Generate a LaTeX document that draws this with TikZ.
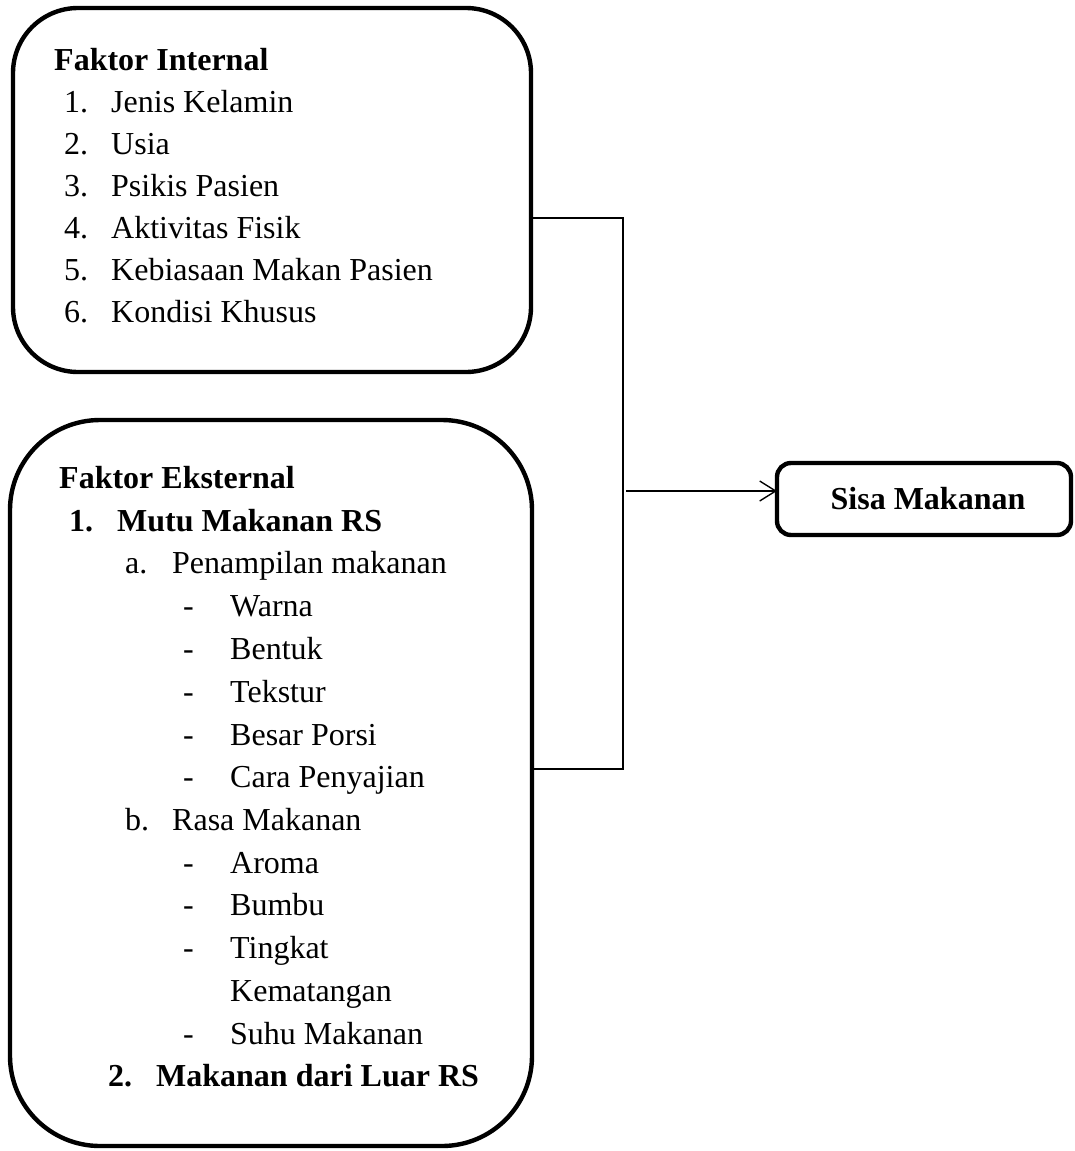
\documentclass[tikz,border=0pt]{standalone}
\usepackage{fontspec}
\setmainfont{Liberation Serif}
\usetikzlibrary{arrows.meta}
\begin{document}
\begin{tikzpicture}[x=1pt,y=-1pt,
  bigbox/.style={draw=black,line width=4.4pt,rectangle,inner sep=0pt,outer sep=0pt},
  txt/.style={anchor=base west,inner sep=0pt,font=\fontsize{32}{38}\selectfont},
  btxt/.style={txt,font=\fontsize{32}{38}\selectfont\bfseries},
  conn/.style={draw=black,line width=1.4pt},
  arr/.style={conn,-{Straight Barb[length=16pt,width=20pt,line width=1.4pt]}}]
\useasboundingbox (0,0) rectangle (1074,1151);
% boxes
\node[bigbox,minimum width=518pt,minimum height=364pt,rounded corners=65pt] (int) at (272,190) {};
\node[bigbox,minimum width=522pt,minimum height=726pt,rounded corners=90pt] (ext) at (271,783) {};
\node[bigbox,minimum width=294pt,minimum height=72pt,rounded corners=14pt,font=\fontsize{32}{38}\selectfont\bfseries] (sisa) at (924,499) {\hspace{8pt}Sisa Makanan};
% internal texts
\node[btxt] (ti) at (54,70) {Faktor Internal};
\node[txt] (i1n) at (64,112) {1.}; \node[txt] (i1) at (111,112) {Jenis Kelamin};
\node[txt] (i2n) at (64,154) {2.}; \node[txt] (i2) at (111,154) {Usia};
\node[txt] (i3n) at (64,196) {3.}; \node[txt] (i3) at (111,196) {Psikis Pasien};
\node[txt] (i4n) at (64,238) {4.}; \node[txt] (i4) at (111,238) {Aktivitas Fisik};
\node[txt] (i5n) at (64,280) {5.}; \node[txt] (i5) at (111,280) {Kebiasaan Makan Pasien};
\node[txt] (i6n) at (64,322) {6.}; \node[txt] (i6) at (111,322) {Kondisi Khusus};
% external texts
\node[btxt] (te) at (59,488) {Faktor Eksternal};
\node[btxt] (e1n) at (69,531) {1.}; \node[btxt] (e1) at (117,531) {Mutu Makanan RS};
\node[txt] (ean) at (125,573) {a.}; \node[txt] (ea) at (172,573) {Penampilan makanan};
\node[txt] (d1) at (183,616) {-}; \node[txt] (w1) at (230,616) {Warna};
\node[txt] (d2) at (183,659) {-}; \node[txt] (w2) at (230,659) {Bentuk};
\node[txt] (d3) at (183,702) {-}; \node[txt] (w3) at (230,702) {Tekstur};
\node[txt] (d4) at (183,745) {-}; \node[txt] (w4) at (230,745) {Besar Porsi};
\node[txt] (d5) at (183,787) {-}; \node[txt] (w5) at (230,787) {Cara Penyajian};
\node[txt] (ebn) at (125,830) {b.}; \node[txt] (eb) at (172,830) {Rasa Makanan};
\node[txt] (d6) at (183,873) {-}; \node[txt] (w6) at (230,873) {Aroma};
\node[txt] (d7) at (183,915) {-}; \node[txt] (w7) at (230,915) {Bumbu};
\node[txt] (d8) at (183,958) {-}; \node[txt] (w8) at (230,958) {Tingkat};
\node[txt] (w8b) at (230,1001) {Kematangan};
\node[txt] (d9) at (183,1044) {-}; \node[txt] (w9) at (230,1044) {Suhu Makanan};
\node[btxt] (e2n) at (108,1086) {2.}; \node[btxt] (e2) at (156,1086) {Makanan dari Luar RS};
% connectors
\coordinate (j1) at (623,218);
\coordinate (j2) at (623,769);
\coordinate (j3) at (626,491);
\draw[conn] (int.east |- j1) -- (j1) -- (j2) -- (ext.east |- j2);
\draw[arr] (j3) -- (sisa.west |- j3);
\end{tikzpicture}
\end{document}
